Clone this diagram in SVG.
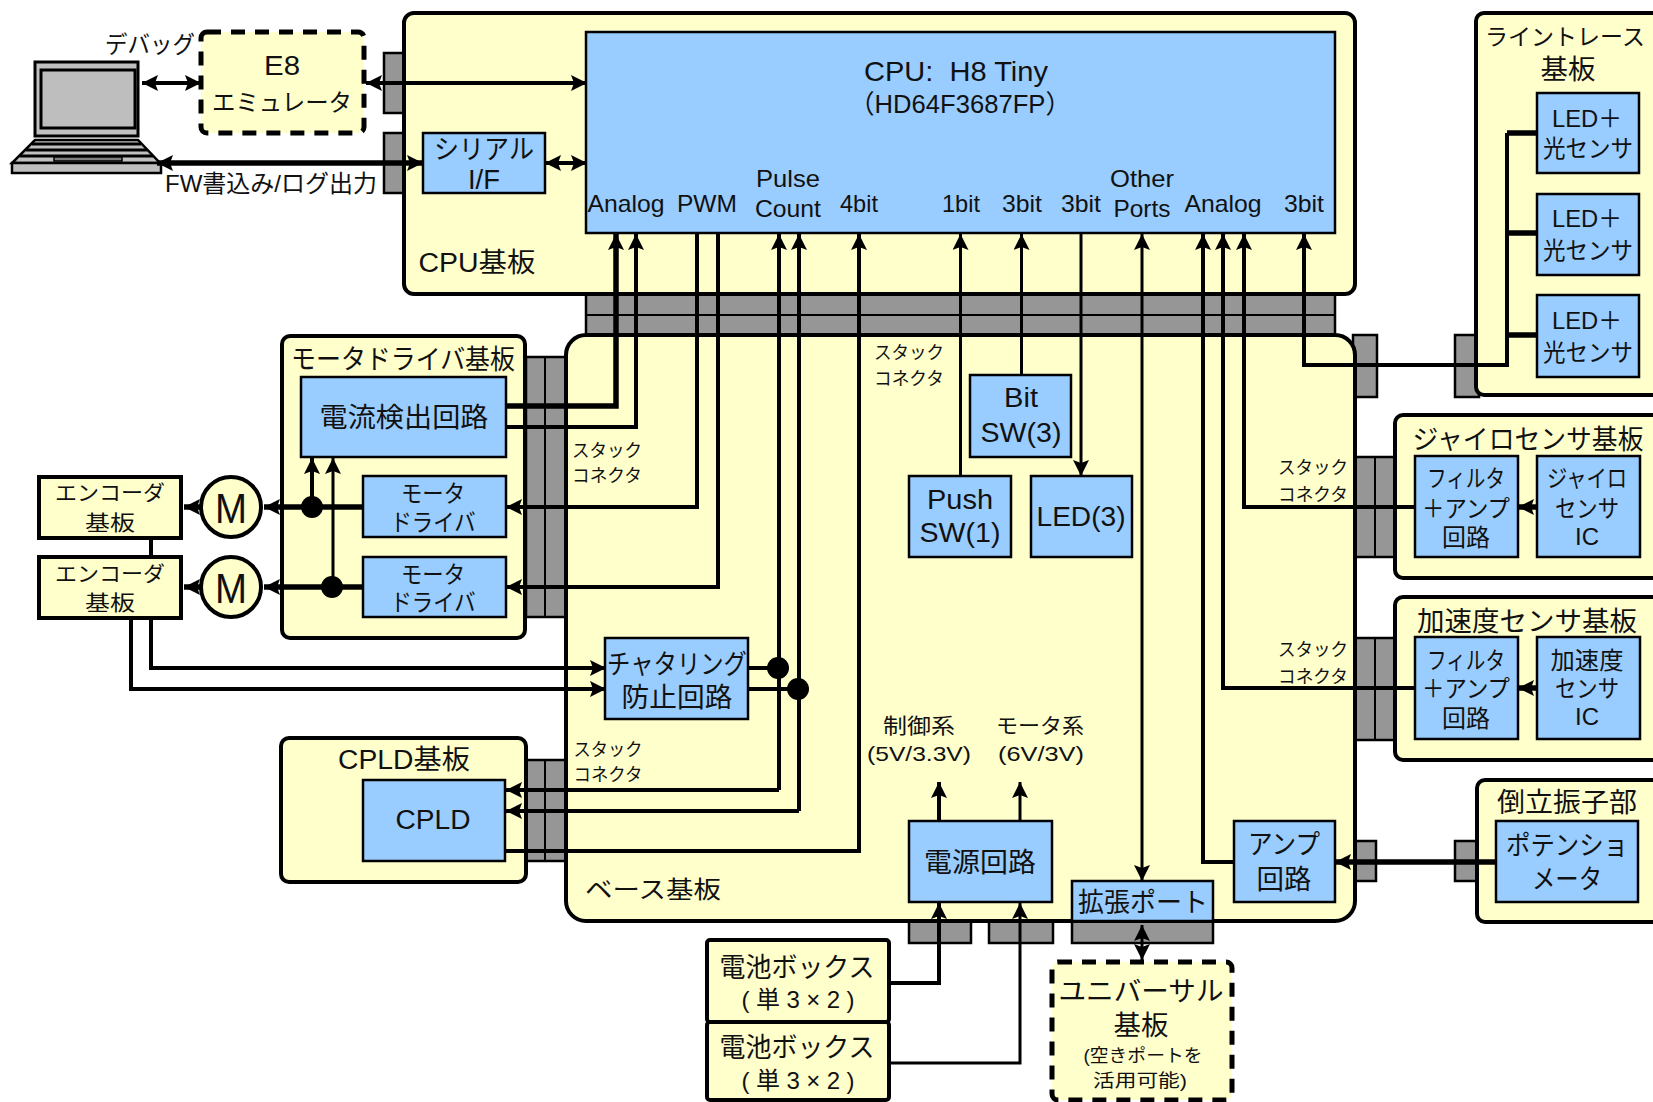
<svg xmlns="http://www.w3.org/2000/svg" width="1653" height="1102" viewBox="0 0 1653 1102">
<style>
text{font-family:"Liberation Sans","Noto Sans CJK JP",sans-serif;fill:#111;text-anchor:middle;dominant-baseline:central}
.board{fill:#FFFFCC;stroke:#000;stroke-width:4}
.dash{fill:#FFFFCC;stroke:#000;stroke-width:5;stroke-dasharray:14 10}
.chip{fill:#99CCFF;stroke:#000;stroke-width:2.5}
.stub{fill:#969696;stroke:#000;stroke-width:2.5}
.m{fill:none;stroke:#000;stroke-width:2}
.w{fill:none;stroke:#000;stroke-width:4}
.n{fill:none;stroke:#000;stroke-width:3}
.h{fill:none;stroke:#000;stroke-width:5.5}
.a{marker-end:url(#ah)}
.b{marker-start:url(#ahr);marker-end:url(#ah)}
.dot{fill:#000}
.s16{font-size:18px}.s20{font-size:21px}.s23{font-size:24px}.s26{font-size:27px}
</style>
<defs>
<marker id="ah" markerUnits="userSpaceOnUse" markerWidth="18" markerHeight="18" refX="16" refY="8" orient="auto"><path d="M0 0L16 8L0 16L3 8Z" fill="#000"/></marker>
<marker id="ahr" markerUnits="userSpaceOnUse" markerWidth="18" markerHeight="18" refX="0" refY="8" orient="auto"><path d="M16 0L0 8L16 16L13 8Z" fill="#000"/></marker>
</defs>

<g id="stack-connectors">
<rect class="stub" x="384" y="53" width="22" height="60"/>
<rect class="stub" x="384" y="133" width="22" height="60"/>
<rect class="stub" x="586" y="294" width="749" height="42"/><path class="m" d="M586 315H1335"/>
<rect class="stub" x="526" y="357" width="42" height="260"/><path class="m" d="M545 357V617"/>
<rect class="stub" x="526" y="760" width="42" height="101"/><path class="m" d="M545 760V861"/>
<rect class="stub" x="1353" y="457" width="44" height="100"/><path class="m" d="M1375 457V557"/>
<rect class="stub" x="1353" y="638" width="44" height="102"/><path class="m" d="M1375 638V740"/>
<rect class="stub" x="1353" y="335" width="24" height="62"/>
<rect class="stub" x="1455" y="335" width="24" height="62"/>
<rect class="stub" x="1353" y="841" width="23" height="40"/>
<rect class="stub" x="1455" y="841" width="24" height="40"/>
<rect class="stub" x="909" y="920" width="62" height="23"/>
<rect class="stub" x="989" y="920" width="64" height="23"/>
<rect class="stub" x="1072" y="920" width="141" height="23"/>
</g>

<g id="laptop">
<rect x="35" y="62" width="103" height="74" fill="#C0C0C0" stroke="#000" stroke-width="3"/>
<rect x="41" y="70" width="94" height="58" fill="#BEBEBE" stroke="#000" stroke-width="3"/>
<path d="M35 140H138L160 163H12Z" fill="#C0C0C0" stroke="#000" stroke-width="2.5"/>
<path d="M32 144H141M26 150H147M20 156H153" stroke="#000" stroke-width="3" fill="none"/>
<rect x="54" y="157" width="68" height="4" fill="#808080" stroke="#000" stroke-width="1.5"/>
<rect x="12" y="163" width="149" height="10" fill="#C0C0C0" stroke="#000" stroke-width="2.5"/>
</g>

<g id="e8"><rect class="dash" x="201" y="32" width="163" height="101" rx="6"/>
<text class="s26" x="282" y="66" textLength="36" lengthAdjust="spacingAndGlyphs">E8</text>
<text class="s23" x="282" y="102" textLength="140" lengthAdjust="spacingAndGlyphs">エミュレータ</text></g>

<g id="cpu-board"><rect class="board" x="404" y="13" width="951" height="281" rx="10"/>
<text class="s26" x="477" y="263" textLength="117" lengthAdjust="spacingAndGlyphs">CPU基板</text></g>

<g id="base-board"><rect class="board" x="566" y="335" width="789" height="586" rx="20"/>
<text class="s23" x="653" y="889" textLength="136" lengthAdjust="spacingAndGlyphs">ベース基板</text></g>

<g id="motor-driver-board"><rect class="board" x="282" y="336" width="243" height="302" rx="8"/>
<text class="s26" x="403" y="360" textLength="224" lengthAdjust="spacingAndGlyphs">モータドライバ基板</text></g>

<g id="cpld-board"><rect class="board" x="281" y="738" width="245" height="144" rx="8"/>
<text class="s26" x="404" y="760" textLength="132" lengthAdjust="spacingAndGlyphs">CPLD基板</text></g>

<g id="line-trace-board"><rect class="board" x="1476" y="13" width="200" height="382" rx="8"/>
<text x="1565" y="37" font-size="23">ライントレース</text>
<text class="s26" x="1568" y="70" textLength="55" lengthAdjust="spacingAndGlyphs">基板</text></g>

<g id="gyro-board"><rect class="board" x="1395" y="415" width="280" height="163" rx="8"/>
<text class="s26" x="1528" y="440" textLength="231" lengthAdjust="spacingAndGlyphs">ジャイロセンサ基板</text></g>

<g id="accel-board"><rect class="board" x="1395" y="597" width="280" height="163" rx="8"/>
<text class="s26" x="1527" y="622" textLength="220" lengthAdjust="spacingAndGlyphs">加速度センサ基板</text></g>

<g id="pendulum-board"><rect class="board" x="1477" y="780" width="200" height="142" rx="8"/>
<text class="s26" x="1567" y="803" textLength="140" lengthAdjust="spacingAndGlyphs">倒立振子部</text></g>

<g id="connectors">
<path class="w b" d="M142 83H201"/>
<path class="w b" d="M366 83H587"/>
<path class="h b" d="M157 163H423"/>
<path class="w b" d="M545 163H587"/>
<path class="h a" d="M506 406H616V234"/>
<path class="w a" d="M506 427H636V234"/>
<path class="w a" d="M697 233V507H506"/>
<path class="w a" d="M718 233V587H506"/>
<path class="w a" d="M779 790V234"/>
<path class="w a" d="M779 790H506"/>
<path class="w a" d="M799 811V234"/>
<path class="w a" d="M799 811H506"/>
<path class="w a" d="M506 851H859V234"/>
<path class="n a" d="M960.500 476V234"/>
<path class="n a" d="M1021.500 375V234"/>
<path class="n a" d="M1081 233V476"/>
<path class="n b" d="M1142 234V881"/>
<path class="w a" d="M1234 862H1203V234"/>
<path class="w a" d="M1415 688H1223V234"/>
<path class="w a" d="M1415 507H1244V234"/>
<path class="w a" d="M1507 133V365H1304V234"/>
<path class="h" d="M1507 133H1537M1507 233H1537M1507 335H1537"/>
<path class="h a" d="M1537 507H1518"/>
<path class="h a" d="M1537 688H1518"/>
<path class="h a" d="M1496 862H1335"/>
<path class="n b" d="M1142 925V960"/>
<path class="w a" d="M889 983H939V903"/>
<path class="n a" d="M889 1063H1020V903"/>
<path class="w a" d="M939 821V782"/>
<path class="n a" d="M1020 821V782"/>
<path class="w a" d="M151 618V668H606"/>
<path class="w a" d="M131 618V689H606"/>
<path class="w" d="M151 538V557"/>
<path class="h a" d="M363 507H264"/>
<path class="h a" d="M363 587H264"/>
<path class="h a" d="M201 507H184"/>
<path class="h a" d="M201 587H184"/>
<path class="w a" d="M312 507V458"/>
<path class="n a" d="M333 587V458"/>
<path class="w" d="M748 668H779M748 689H799"/>
<circle class="dot" cx="312" cy="507" r="11"/>
<circle class="dot" cx="332" cy="587" r="11"/>
<circle class="dot" cx="778" cy="668" r="11"/>
<circle class="dot" cx="798" cy="689" r="11"/>
</g>

<g id="cpu"><rect class="chip" x="586" y="32" width="749" height="201"/>
<text x="956" y="71" font-size="28" textLength="184" lengthAdjust="spacingAndGlyphs">CPU:&#160; H8 Tiny</text>
<text x="960" y="104" font-size="26" textLength="222" lengthAdjust="spacingAndGlyphs">（HD64F3687FP）</text>
<text class="s23" x="626" y="203" textLength="77" lengthAdjust="spacingAndGlyphs">Analog</text>
<text class="s23" x="707" y="203" textLength="60" lengthAdjust="spacingAndGlyphs">PWM</text>
<text class="s23" x="788" y="178" textLength="64" lengthAdjust="spacingAndGlyphs">Pulse</text>
<text class="s23" x="788" y="208" textLength="66" lengthAdjust="spacingAndGlyphs">Count</text>
<text class="s23" x="859" y="203" textLength="38" lengthAdjust="spacingAndGlyphs">4bit</text>
<text class="s23" x="961" y="203" textLength="38" lengthAdjust="spacingAndGlyphs">1bit</text>
<text class="s23" x="1022" y="203" textLength="40" lengthAdjust="spacingAndGlyphs">3bit</text>
<text class="s23" x="1081" y="203" textLength="40" lengthAdjust="spacingAndGlyphs">3bit</text>
<text class="s23" x="1142" y="178" textLength="64" lengthAdjust="spacingAndGlyphs">Other</text>
<text class="s23" x="1142" y="208" textLength="57" lengthAdjust="spacingAndGlyphs">Ports</text>
<text class="s23" x="1223" y="203" textLength="77" lengthAdjust="spacingAndGlyphs">Analog</text>
<text class="s23" x="1304" y="203" textLength="40" lengthAdjust="spacingAndGlyphs">3bit</text></g>

<g id="serial-if"><rect class="chip" x="423" y="133" width="122" height="60"/>
<text class="s26" x="484" y="150" textLength="100" lengthAdjust="spacingAndGlyphs">シリアル</text>
<text class="s26" x="484" y="180" textLength="32" lengthAdjust="spacingAndGlyphs">I/F</text></g>

<g id="current-detect"><rect class="chip" x="301" y="377" width="205" height="80"/>
<text class="s26" x="404" y="418" textLength="169" lengthAdjust="spacingAndGlyphs">電流検出回路</text></g>
<g id="motor-driver-1"><rect class="chip" x="363" y="476" width="143" height="61"/>
<text class="s23" x="433" y="493" textLength="64" lengthAdjust="spacingAndGlyphs">モータ</text>
<text class="s23" x="433" y="522" textLength="85" lengthAdjust="spacingAndGlyphs">ドライバ</text></g>
<g id="motor-driver-2"><rect class="chip" x="363" y="557" width="143" height="60"/>
<text class="s23" x="433" y="574" textLength="64" lengthAdjust="spacingAndGlyphs">モータ</text>
<text class="s23" x="433" y="602" textLength="85" lengthAdjust="spacingAndGlyphs">ドライバ</text></g>

<g id="encoder-1"><rect class="board" x="39" y="477" width="142" height="61" stroke-width="3.500"/>
<text class="s20" x="110" y="492" textLength="110" lengthAdjust="spacingAndGlyphs">エンコーダ</text>
<text class="s20" x="110" y="522" textLength="50" lengthAdjust="spacingAndGlyphs">基板</text></g>
<g id="encoder-2"><rect class="board" x="39" y="557" width="142" height="61" stroke-width="3.500"/>
<text class="s20" x="110" y="573" textLength="110" lengthAdjust="spacingAndGlyphs">エンコーダ</text>
<text class="s20" x="110" y="602" textLength="50" lengthAdjust="spacingAndGlyphs">基板</text></g>
<g id="motor-1"><circle class="board" cx="231" cy="507" r="30"/><text x="231" y="508" font-size="42" textLength="32" lengthAdjust="spacingAndGlyphs">M</text></g>
<g id="motor-2"><circle class="board" cx="231" cy="587" r="30"/><text x="231" y="588" font-size="42" textLength="32" lengthAdjust="spacingAndGlyphs">M</text></g>

<g id="chatter"><rect class="chip" x="605" y="638" width="143" height="81"/>
<text class="s26" x="677" y="665" textLength="140" lengthAdjust="spacingAndGlyphs">チャタリング</text>
<text class="s26" x="677" y="698" textLength="111" lengthAdjust="spacingAndGlyphs">防止回路</text></g>
<g id="cpld"><rect class="chip" x="363" y="780" width="142" height="81"/>
<text class="s26" x="433" y="820" textLength="75" lengthAdjust="spacingAndGlyphs">CPLD</text></g>

<g id="bit-sw"><rect class="chip" x="970" y="375" width="101" height="82"/>
<text class="s26" x="1021" y="398" textLength="34" lengthAdjust="spacingAndGlyphs">Bit</text>
<text class="s26" x="1021" y="433" textLength="81" lengthAdjust="spacingAndGlyphs">SW(3)</text></g>
<g id="push-sw"><rect class="chip" x="909" y="476" width="102" height="81"/>
<text class="s26" x="960" y="500" textLength="66" lengthAdjust="spacingAndGlyphs">Push</text>
<text class="s26" x="960" y="533" textLength="81" lengthAdjust="spacingAndGlyphs">SW(1)</text></g>
<g id="led"><rect class="chip" x="1031" y="476" width="101" height="81"/>
<text class="s26" x="1081" y="517" textLength="89" lengthAdjust="spacingAndGlyphs">LED(3)</text></g>

<g id="power"><rect class="chip" x="909" y="821" width="143" height="81"/>
<text class="s26" x="980" y="863" textLength="112" lengthAdjust="spacingAndGlyphs">電源回路</text></g>
<g id="expansion-port"><rect class="chip" x="1072" y="881" width="141" height="40"/>
<text class="s26" x="1143" y="903" textLength="130" lengthAdjust="spacingAndGlyphs">拡張ポート</text></g>
<g id="amp"><rect class="chip" x="1234" y="821" width="101" height="81"/>
<text class="s26" x="1284" y="845" textLength="72" lengthAdjust="spacingAndGlyphs">アンプ</text>
<text class="s26" x="1284" y="880" textLength="55" lengthAdjust="spacingAndGlyphs">回路</text></g>

<g id="sensor-1"><rect class="chip" x="1537" y="93" width="102" height="80"/>
<text class="s23" x="1587" y="118" textLength="70" lengthAdjust="spacingAndGlyphs">LED＋</text>
<text class="s23" x="1588" y="148" textLength="90" lengthAdjust="spacingAndGlyphs">光センサ</text></g>
<g id="sensor-2"><rect class="chip" x="1537" y="194" width="102" height="81"/>
<text class="s23" x="1587" y="218" textLength="70" lengthAdjust="spacingAndGlyphs">LED＋</text>
<text class="s23" x="1588" y="250" textLength="90" lengthAdjust="spacingAndGlyphs">光センサ</text></g>
<g id="sensor-3"><rect class="chip" x="1537" y="295" width="102" height="82"/>
<text class="s23" x="1587" y="320" textLength="70" lengthAdjust="spacingAndGlyphs">LED＋</text>
<text class="s23" x="1588" y="352" textLength="90" lengthAdjust="spacingAndGlyphs">光センサ</text></g>

<g id="gyro-filter"><rect class="chip" x="1415" y="456" width="103" height="101"/>
<text class="s23" x="1466" y="478" textLength="78" lengthAdjust="spacingAndGlyphs">フィルタ</text>
<text class="s23" x="1466" y="508" textLength="88" lengthAdjust="spacingAndGlyphs">＋アンプ</text>
<text class="s23" x="1466" y="537" textLength="48" lengthAdjust="spacingAndGlyphs">回路</text></g>
<g id="gyro-ic"><rect class="chip" x="1537" y="456" width="103" height="101"/>
<text class="s23" x="1587" y="478" textLength="80" lengthAdjust="spacingAndGlyphs">ジャイロ</text>
<text class="s23" x="1587" y="508" textLength="64" lengthAdjust="spacingAndGlyphs">センサ</text>
<text class="s23" x="1587" y="536" textLength="24" lengthAdjust="spacingAndGlyphs">IC</text></g>
<g id="accel-filter"><rect class="chip" x="1415" y="637" width="103" height="102"/>
<text class="s23" x="1466" y="660" textLength="78" lengthAdjust="spacingAndGlyphs">フィルタ</text>
<text class="s23" x="1466" y="688" textLength="88" lengthAdjust="spacingAndGlyphs">＋アンプ</text>
<text class="s23" x="1466" y="718" textLength="48" lengthAdjust="spacingAndGlyphs">回路</text></g>
<g id="accel-ic"><rect class="chip" x="1537" y="637" width="103" height="102"/>
<text class="s23" x="1587" y="660" textLength="73" lengthAdjust="spacingAndGlyphs">加速度</text>
<text class="s23" x="1587" y="688" textLength="64" lengthAdjust="spacingAndGlyphs">センサ</text>
<text class="s23" x="1587" y="716" textLength="24" lengthAdjust="spacingAndGlyphs">IC</text></g>
<g id="potentiometer"><rect class="chip" x="1496" y="821" width="142" height="81"/>
<text class="s26" x="1567" y="846" textLength="122" lengthAdjust="spacingAndGlyphs">ポテンショ</text>
<text class="s26" x="1567" y="880" textLength="70" lengthAdjust="spacingAndGlyphs">メータ</text></g>

<g id="battery-1"><rect class="board" x="707" y="940" width="182" height="82" rx="3"/>
<text class="s26" x="797" y="968" textLength="155" lengthAdjust="spacingAndGlyphs">電池ボックス</text>
<text class="s23" x="798" y="999" textLength="113" lengthAdjust="spacing">(単3×2)</text></g>
<g id="battery-2"><rect class="board" x="707" y="1022" width="182" height="78" rx="3"/>
<text class="s26" x="797" y="1048" textLength="155" lengthAdjust="spacingAndGlyphs">電池ボックス</text>
<text class="s23" x="798" y="1080" textLength="113" lengthAdjust="spacing">(単3×2)</text></g>

<g id="universal-board"><rect class="dash" x="1052" y="962" width="180" height="138" rx="6"/>
<text class="s26" x="1141" y="992" textLength="165" lengthAdjust="spacingAndGlyphs">ユニバーサル</text>
<text class="s26" x="1141" y="1026" textLength="55" lengthAdjust="spacingAndGlyphs">基板</text>
<text class="s16" x="1143" y="1056" textLength="119" lengthAdjust="spacingAndGlyphs">(空きポートを</text>
<text class="s16" x="1140" y="1081" textLength="94" lengthAdjust="spacingAndGlyphs">活用可能)</text></g>

<g id="labels">
<text class="s23" x="150" y="44" textLength="90" lengthAdjust="spacingAndGlyphs">デバッグ</text>
<text class="s23" x="271" y="183" textLength="212" lengthAdjust="spacingAndGlyphs">FW書込み/ログ出力</text>
<text class="s16" x="909" y="353" textLength="70" lengthAdjust="spacingAndGlyphs">スタック</text>
<text class="s16" x="909" y="379" textLength="70" lengthAdjust="spacingAndGlyphs">コネクタ</text>
<text class="s16" x="607" y="451" textLength="70" lengthAdjust="spacingAndGlyphs">スタック</text>
<text class="s16" x="607" y="476" textLength="70" lengthAdjust="spacingAndGlyphs">コネクタ</text>
<text class="s16" x="608" y="750" textLength="69" lengthAdjust="spacingAndGlyphs">スタック</text>
<text class="s16" x="608" y="775" textLength="69" lengthAdjust="spacingAndGlyphs">コネクタ</text>
<text class="s16" x="1313" y="468" textLength="70" lengthAdjust="spacingAndGlyphs">スタック</text>
<text class="s16" x="1313" y="495" textLength="70" lengthAdjust="spacingAndGlyphs">コネクタ</text>
<text class="s16" x="1313" y="650" textLength="70" lengthAdjust="spacingAndGlyphs">スタック</text>
<text class="s16" x="1313" y="677" textLength="70" lengthAdjust="spacingAndGlyphs">コネクタ</text>
<text class="s20" x="919" y="725" textLength="72" lengthAdjust="spacingAndGlyphs">制御系</text>
<text class="s20" x="919" y="753" textLength="104" lengthAdjust="spacingAndGlyphs">(5V/3.3V)</text>
<text class="s20" x="1040" y="725" textLength="88" lengthAdjust="spacingAndGlyphs">モータ系</text>
<text class="s20" x="1041" y="753" textLength="86" lengthAdjust="spacingAndGlyphs">(6V/3V)</text>
</g>
</svg>
